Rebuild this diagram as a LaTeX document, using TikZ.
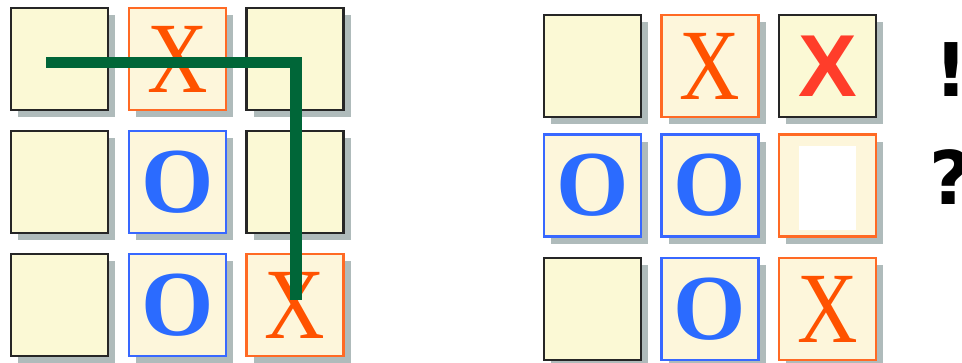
\documentclass[tikz,border=0pt]{standalone}
\usepackage{fontspec}
\newfontfamily\serifx{Liberation Serif}
\newfontfamily\sansx{Liberation Sans}
\newfontfamily\dejab{DejaVu Sans}
\definecolor{plainfill}{HTML}{FBF9D5}
\definecolor{markfill}{HTML}{FDF6DB}
\definecolor{orangeb}{HTML}{FF6A24}
\definecolor{blueb}{HTML}{3868FF}
\definecolor{xorange}{HTML}{FF5200}
\definecolor{oblue}{HTML}{2B6BFF}
\definecolor{xred}{HTML}{FF3D2A}
\definecolor{shadowc}{HTML}{A6B4B4}
\definecolor{pathgreen}{HTML}{006638}
\begin{document}
\begin{tikzpicture}[x=1pt,y=-1pt,
  cellbase/.style={rectangle, minimum width=97pt, minimum height=102pt, inner sep=0pt,
    preaction={fill=shadowc, opacity=0.9, transform canvas={shift={(7pt,-7pt)}}}},
  plaincell/.style={cellbase, draw=black!85, line width=2.6pt, fill=plainfill},
  xcell/.style={cellbase, draw=orangeb, line width=2.2pt, fill=markfill},
  ocell/.style={cellbase, draw=blueb, line width=2.2pt, fill=markfill},
  xmark/.style={inner sep=0pt, text=xorange, font=\serifx\fontsize{101}{101}\selectfont, xscale=0.83},
  omark/.style={inner sep=0pt, text=oblue, font=\serifx\bfseries\fontsize{93}{93}\selectfont},
  bigx/.style={inner sep=0pt, text=xred, font=\sansx\bfseries\fontsize{88}{88}\selectfont},
  punct/.style={inner sep=0pt, text=black, font=\dejab\bfseries\fontsize{74}{74}\selectfont},
  pathline/.style={draw=pathgreen, line width=11.5pt, line join=miter, line cap=butt}
]
\useasboundingbox (0,0) rectangle (962,362);
% left board
\node[plaincell] (la1) at (59.5,59) {};
\node[xcell]     (la2) at (177.5,59) {};
\node[plaincell] (la3) at (295,59) {};
\node[plaincell] (lb1) at (59.5,182) {};
\node[ocell]     (lb2) at (177.5,182) {};
\node[plaincell] (lb3) at (295,182) {};
\node[plaincell] (lc1) at (59.5,305) {};
\node[ocell]     (lc2) at (177.5,305) {};
\node[xcell]     (lc3) at (295,305) {};
\node[xmark] (lx1) at (la2) {X};
\node[omark] (lo1) at (lb2) {O};
\node[omark] (lo2) at (lc2) {O};
\node[xmark] (lx2) at (lc3) {X};
\coordinate (gstart) at (46,62.5);
\coordinate (gend) at (296,300);
\draw[pathline] (gstart) -| (gend);
% right board
\node[plaincell] (ra1) at (592.5,66) {};
\node[xcell]     (ra2) at (710,66) {};
\node[plaincell] (ra3) at (827.5,66) {};
\node[ocell]     (rb1) at (592.5,185.5) {};
\node[ocell]     (rb2) at (710,185.5) {};
\node[xcell]     (rb3) at (827.5,185.5) {};
\node[plaincell] (rc1) at (592.5,309) {};
\node[ocell]     (rc2) at (710,309) {};
\node[xcell]     (rc3) at (827.5,309) {};
\node[xmark] (rx1) at (ra2) {X};
\node[bigx]  (rx2) at (ra3) {X};
\node[omark] (ro1) at (rb1) {O};
\node[omark] (ro2) at (rb2) {O};
\node[omark] (ro3) at (rc2) {O};
\node[xmark] (rx3) at (rc3) {X};
\node[fill=white, minimum width=57pt, minimum height=84pt, inner sep=0pt] (blank) at (827.5,188) {};
\node[punct] (bang) at (951,70) {!};
\node[punct] (quest) at (951,177.5) {?};
\end{tikzpicture}
\end{document}
